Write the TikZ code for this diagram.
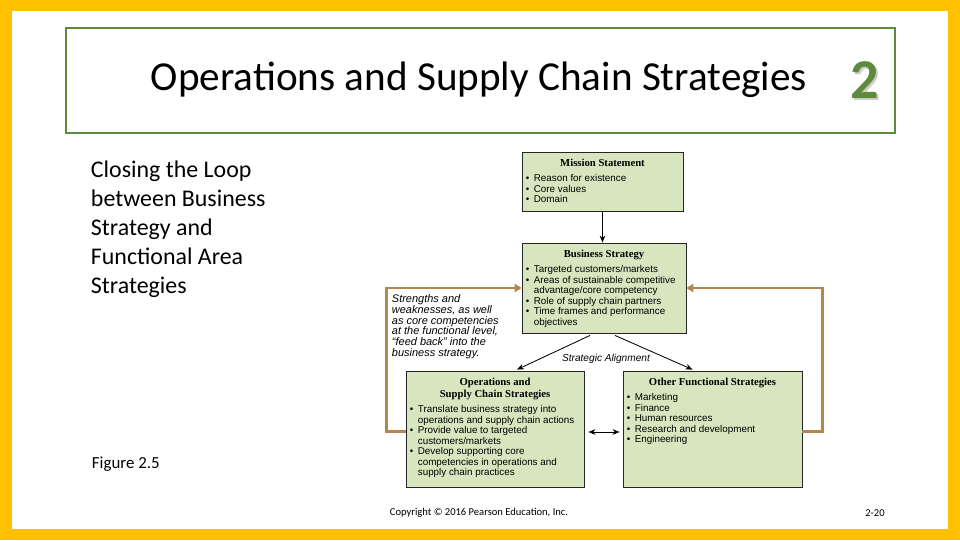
\documentclass[tikz,border=0pt]{standalone}
\usepackage{
    fontspec,
    xcolor,
    tikz
}
\usetikzlibrary{arrows.meta}
\setmainfont{Carlito}
\newfontfamily\figsans{Liberation Sans}
\newfontfamily\figserif{Liberation Serif}
\definecolor{slideyellow}{HTML}{FFC000}
\definecolor{titlegreen}{HTML}{5E8A3C}
\definecolor{boxgreen}{HTML}{D8E6BF}
\definecolor{loopbrown}{HTML}{B5874C}
\newcommand{\boxbody}[3]{\parbox[t][#1][t]{#2}{\raggedright #3}}
\newcommand{\boxhead}[1]{\vspace*{2.5pt}{\centering\figserif\bfseries\fontsize{7.6}{8.4}\selectfont #1\par}\vspace{3pt}}
\newcommand{\bitem}[1]{\par\hangindent=0.8em\hangafter=1\noindent\makebox[0.8em][l]{\textbullet}#1}

\tikzset{
  stratbox/.style={draw=black!85, line width=0.6pt, fill=boxgreen, inner sep=0.1cm,
    font=\figsans\fontsize{7}{7.5}\selectfont},
  feedloop/.style={loopbrown, line width=2pt, -{Triangle[length=5pt,width=6pt]}},
  alignarrow/.style={black, line width=0.6pt, -{Stealth[length=5pt,width=4pt]}}
}

\begin{document}
\begin{tikzpicture}[x=0.025cm, y=-0.025cm]
\fill[slideyellow] (0,0) rectangle (960,540);
\fill[white] (12,11) rectangle (948,529);
\draw[titlegreen, line width=2pt] (66,28) rectangle (895,133);
\node[font=\fontsize{29.3}{34}\selectfont] (title) at (479,80) {Operations and Supply Chain Strategies};
\node[gray!40, font=\fontsize{40}{44}\selectfont\bfseries] (chapshade) at (867,82) {2};
\node[titlegreen, font=\fontsize{40}{44}\selectfont\bfseries] (chapnum) at (865,80) {2};
\node[anchor=north west, align=left, font=\fontsize{17}{20.6}\selectfont] (loopnote) at (86,156) {Closing the Loop\\between Business\\Strategy and\\Functional Area\\Strategies};
\node[anchor=west, font=\fontsize{12}{14}\selectfont] (figlabel) at (87,464) {Figure 2.5};
\node[font=\fontsize{7.5}{9}\selectfont] (copyright) at (479,513) {Copyright © 2016 Pearson Education, Inc.};
\node[font=\fontsize{7.5}{9}\selectfont] (pagenum) at (875,513) {2-20};

\node[stratbox] (mission) at (602.5,181.5) {\boxbody{1.275cm}{3.825cm}{%
  \boxhead{Mission Statement}%
  \bitem{Reason for existence}%
  \bitem{Core values}%
  \bitem{Domain}}};
\node[stratbox] (business) at (604,288) {\boxbody{2.05cm}{3.9cm}{%
  \boxhead{Business Strategy}%
  \bitem{Targeted customers/markets}%
  \bitem{Areas of sustainable competitive\newline advantage/core competency}%
  \bitem{Role of supply chain partners}%
  \bitem{Time frames and performance\newline objectives}}};
\node[stratbox] (ops) at (495,429) {\boxbody{2.7cm}{4.25cm}{%
  \boxhead{Operations and\\Supply Chain Strategies}%
  \bitem{Translate business strategy into\newline operations and supply chain actions}%
  \bitem{Provide value to targeted\newline customers/markets}%
  \bitem{Develop supporting core\newline competencies in operations and\newline supply chain practices}}};
\node[stratbox] (other) at (712.5,429) {\boxbody{2.7cm}{4.275cm}{%
  \boxhead{Other Functional Strategies}%
  \bitem{Marketing}%
  \bitem{Finance}%
  \bitem{Human resources}%
  \bitem{Research and development}%
  \bitem{Engineering}}};

\node[anchor=north west, align=left, font=\figsans\itshape\fontsize{7.8}{7.55}\selectfont] (feedback) at (387,290) {Strengths and\\weaknesses, as well\\as core competencies\\at the functional level,\\“feed back” into the\\business strategy.};
\node[font=\figsans\itshape\fontsize{7.2}{8}\selectfont] (salign) at (606,359) {Strategic Alignment};

\draw[alignarrow] (mission.south) -- (mission.south |- business.north);
\draw[alignarrow] ([shift={(-14,2)}]business.south) -- ([shift={(22,-1)}]ops.north);
\draw[alignarrow] ([shift={(11,2)}]business.south) -- ([shift={(-20,-1)}]other.north);
\draw[alignarrow, {Stealth[length=5pt,width=4pt]}-{Stealth[length=5pt,width=4pt]}] ([shift={(4,3)}]ops.east) -- ([shift={(-3,3)}]other.west);
\draw[feedloop] ([yshift=-2pt]ops.west) -- ++(-19,0) |- (business.west);
\draw[feedloop] ([yshift=-2pt]other.east) -- ++(20,0) |- (business.east);
\end{tikzpicture}
\end{document}
